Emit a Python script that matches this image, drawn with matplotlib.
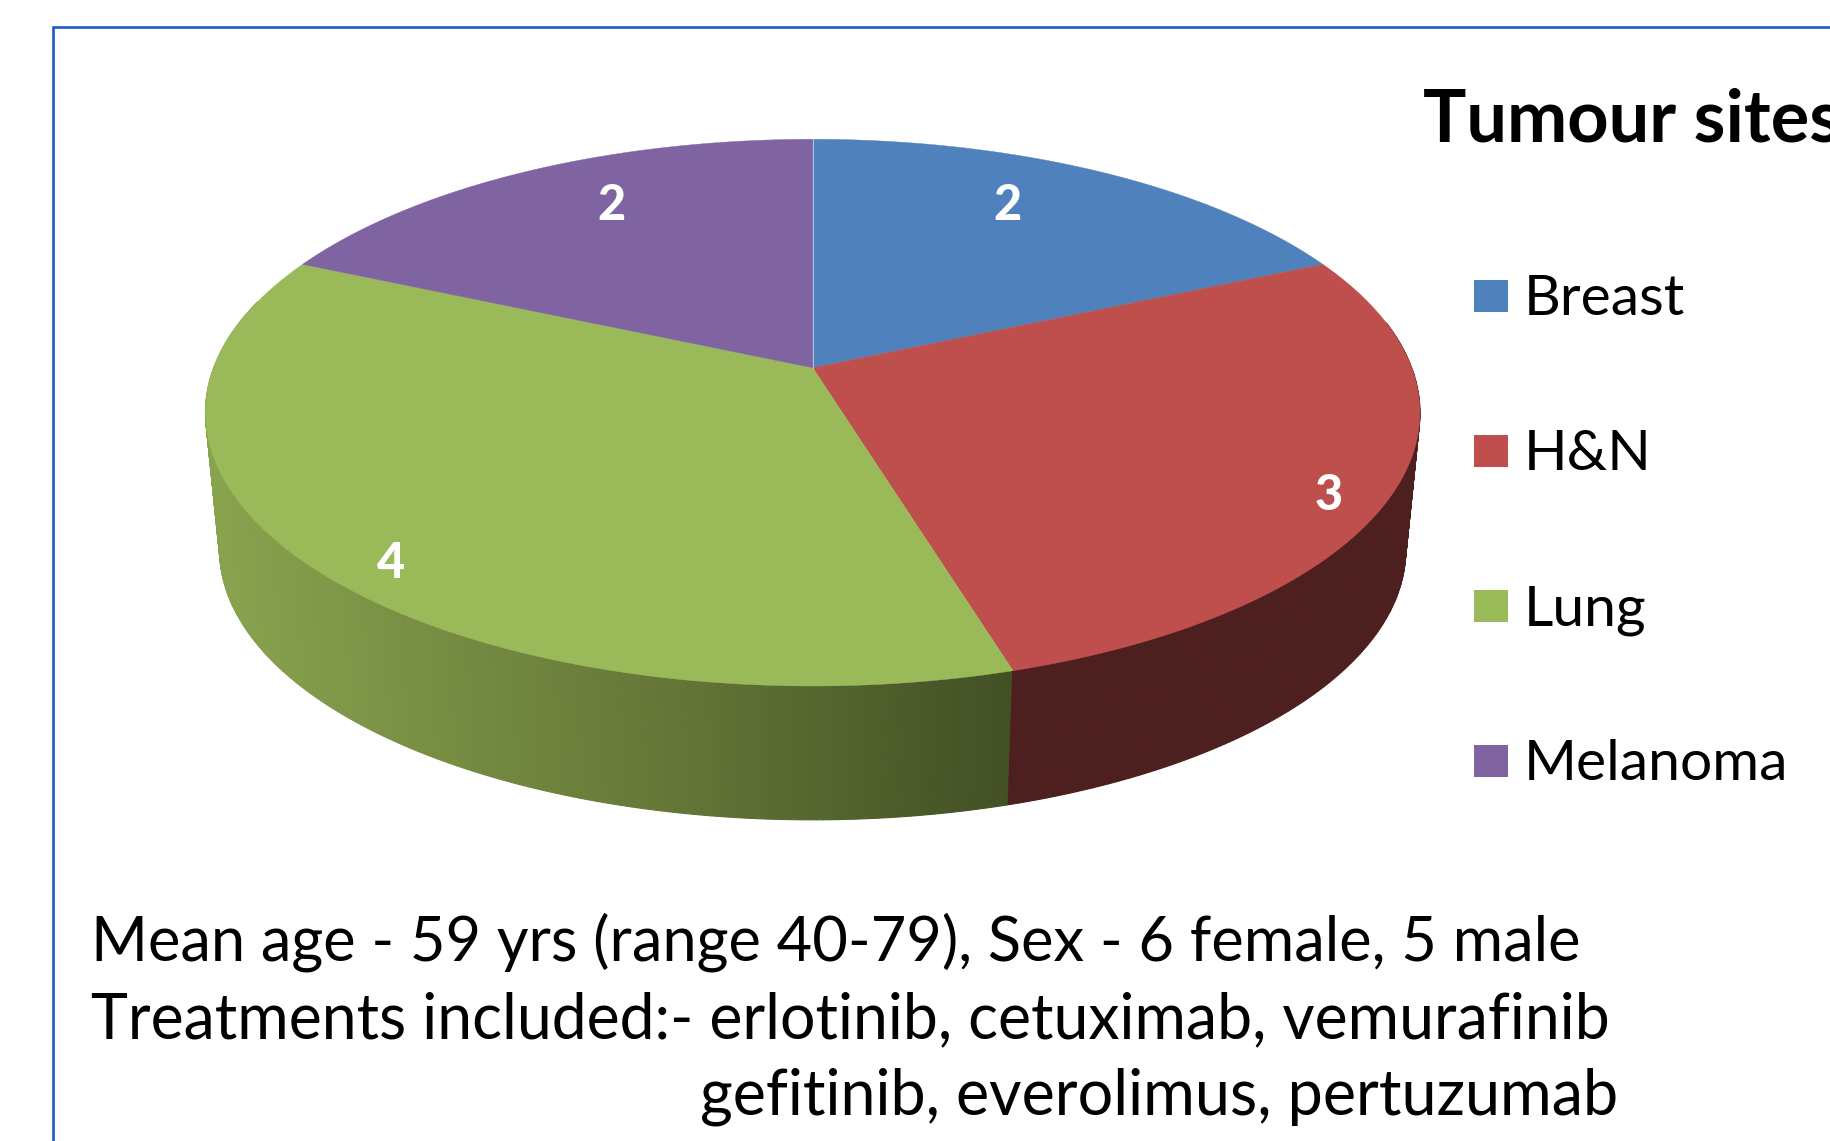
import numpy as np
import matplotlib
matplotlib.use('Agg')
import matplotlib.pyplot as plt

plt.rcParams['font.family'] = ['Lato', 'DejaVu Sans']

# dados do grafico
sites = ['Breast', 'H&N', 'Lung', 'Melanoma']
counts = [2, 3, 4, 2]
top_colors = ['#4f81bd', '#be4f4c', '#9aba59', '#8064a2']
side_red = '#4d1f1f'
green_stops_x = [220, 680, 1010]
green_stops_rgb = [(136, 163, 78), (100, 118, 55), (66, 80, 36)]
notes = ['Mean age - 59 yrs (range 40-79), Sex - 6 female, 5 male',
         'Treatments included:- erlotinib, cetuximab, vemurafinib',
         'gefitinib, everolimus, pertuzumab']

fig = plt.figure(figsize=(18.31, 11.41), dpi=100)
ax = fig.add_axes([0, 0, 1, 1])
ax.set_xlim(0, 1831)
ax.set_ylim(1141, 0)
ax.axis('off')


# disco em perspectiva: angulo medido do topo, sentido horario
def top_disc(theta):
    x, y = np.sin(theta), np.cos(theta)
    w = 1 + 0.164 * y
    return 812.7 + 599 * x / w, 367.8 - 266 * y / w


def bottom_disc(theta):
    x, y = np.sin(theta), np.cos(theta)
    w = 1 + 0.164 * y
    return 812.7 + 585 * x / w, 505.6 - 262.7 * y / w


# limites das fatias a partir dos valores
edges = np.cumsum([0] + counts) / sum(counts) * 2 * np.pi

# lateral: so as fatias da frente aparecem
t = np.linspace(np.radians(80), np.radians(285), 400)
for a, b in zip(t[:-1], t[1:]):
    xt0, yt0 = top_disc(a)
    xt1, yt1 = top_disc(b)
    xb0, yb0 = bottom_disc(a)
    xb1, yb1 = bottom_disc(b)
    if (a + b) / 2 < edges[2]:
        col = side_red
    else:
        xm = (xt0 + xb0) / 2
        col = [np.interp(xm, green_stops_x, [c[i] for c in green_stops_rgb]) / 255 for i in range(3)]
    ax.fill([xt0, xt1, xb1, xb0], [yt0, yt1, yb1, yb0], color=col, lw=0.8)

# tampo
for i in range(len(counts)):
    t = np.linspace(edges[i], edges[i + 1], 200)
    xs, ys = top_disc(t)
    ax.fill(np.r_[812.7, xs], np.r_[367.8, ys], color=top_colors[i], lw=0.3)

# linha clara entre melanoma e breast
xe, ye = top_disc(edges[0])
ax.plot([812.7, xe], [367.8, ye], color='white', alpha=0.5, lw=0.8)

# rotulos dos valores
label_pos = [(1008, 205), (1329, 495), (391, 563), (612, 205)]
for v, (lx, ly) in zip(counts, label_pos):
    ax.text(lx, ly, str(v), color='white', fontsize=35, fontweight=900, ha='center', va='center')

# legenda
ax.text(1423, 142, 'Tumour sites', fontsize=52, fontweight='bold', color='black', va='baseline')
for i, s in enumerate(sites):
    yc = 296 + i * 155
    ax.fill([1474, 1508, 1508, 1474], [yc - 16, yc - 16, yc + 16, yc + 16], color=top_colors[i], lw=0)
    ax.text(1524, yc + 19, s, fontsize=41, color='black', va='baseline')

# texto de baixo
ax.text(91, 961, notes[0], fontsize=44.2, color='black', va='baseline')
ax.text(91, 1038, notes[1], fontsize=45, color='black', va='baseline')
ax.text(700, 1114, notes[2], fontsize=45.3, color='black', va='baseline')

# pedaco de letra cortado no topo da imagem
ax.text(1480, -10, 'y', fontsize=42, color='black', ha='center', va='baseline')

# moldura azul
ax.plot([53, 53, 1831], [1141, 27, 27], color='#1a5cc4', lw=1.9, solid_joinstyle='miter', clip_on=False)

fig.savefig('out.png', dpi=100)
